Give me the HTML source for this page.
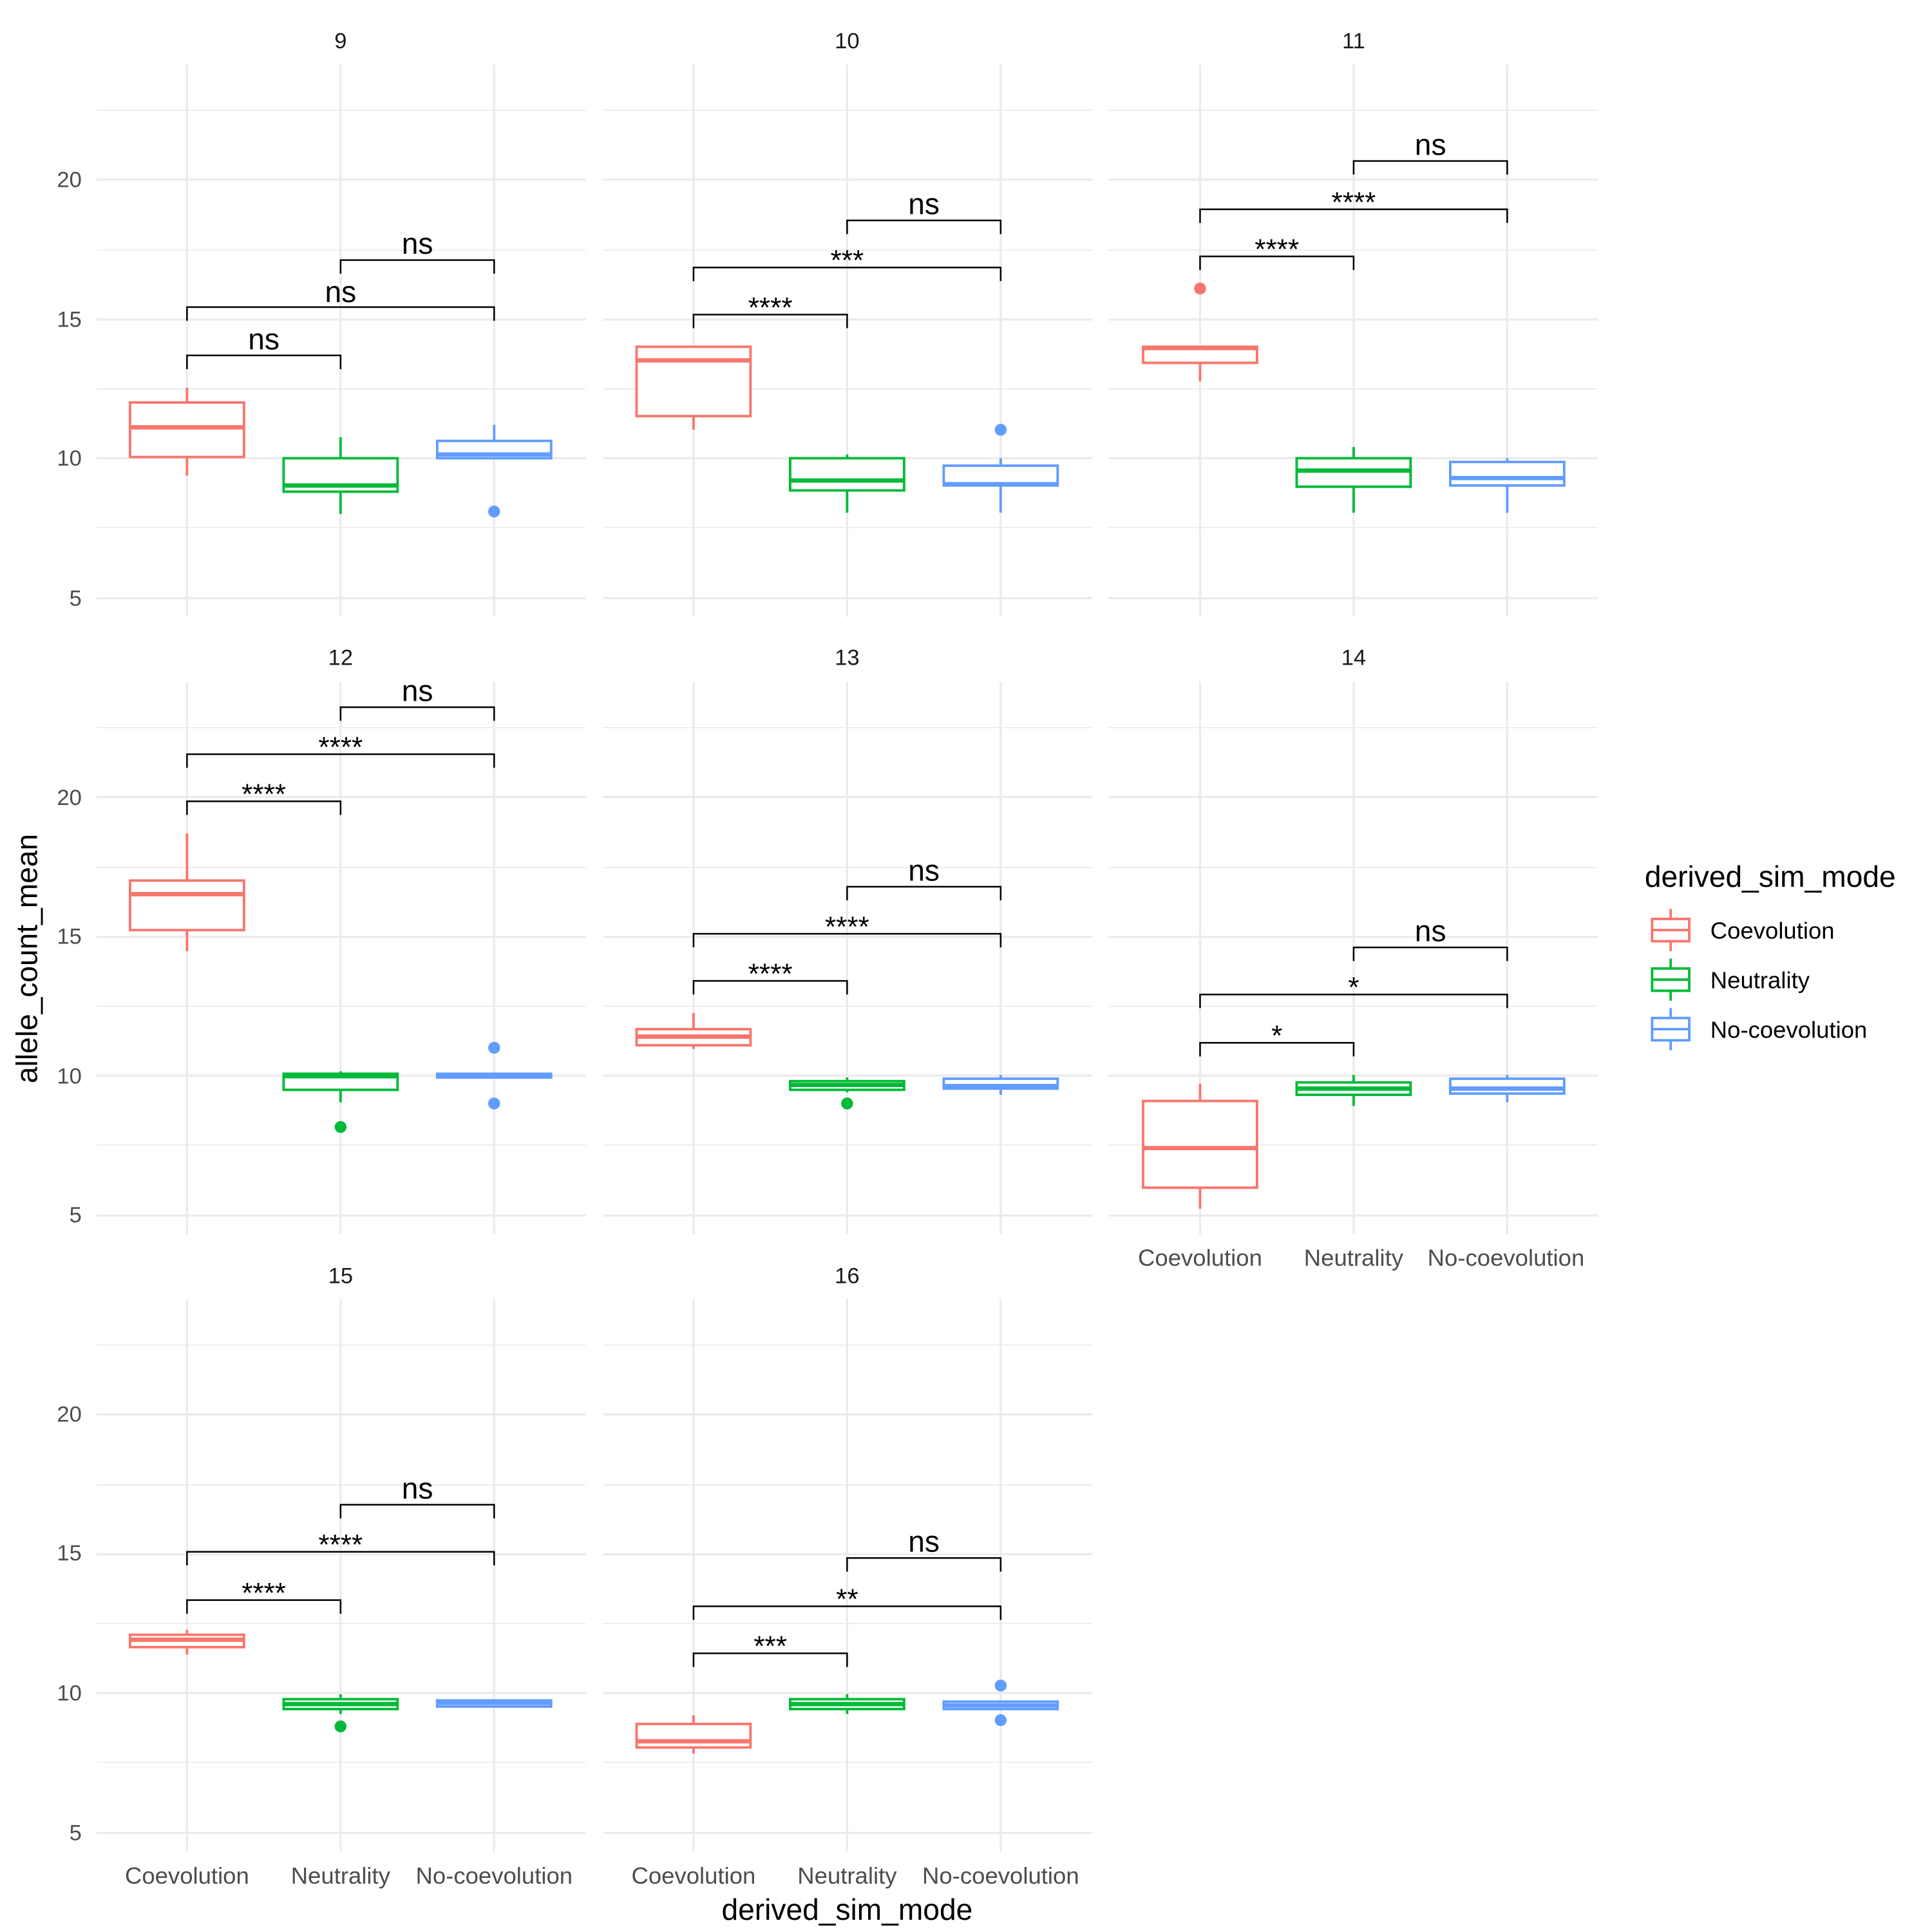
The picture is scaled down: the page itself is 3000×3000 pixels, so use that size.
<!DOCTYPE html>
<html><head><meta charset="utf-8">
<style>
html,body{margin:0;padding:0;background:#fff;}
svg{display:block;}
text{font-family:"Liberation Sans",Arial,sans-serif;}
</style></head><body>
<svg id="s" width="3000" height="3000" viewBox="0 0 1560 1560" xmlns="http://www.w3.org/2000/svg">
<rect width="1560" height="1560" fill="#fff"/>
<g id="grid"></g>
<g id="shapes"></g>
<g font-size="18" fill="#1A1A1A" text-anchor="middle">
<text x="275" y="39">9</text><text x="684" y="39">10</text><text x="1093" y="39">11</text>
<text x="275" y="537">12</text><text x="684" y="537">13</text><text x="1093" y="537">14</text>
<text x="275" y="1036">15</text><text x="684" y="1036">16</text>
</g>
<g font-size="18" fill="#4D4D4D" text-anchor="end">
<text x="66" y="151">20</text><text x="66" y="264">15</text><text x="66" y="376">10</text><text x="66" y="489">5</text>
<text x="66" y="650">20</text><text x="66" y="762">15</text><text x="66" y="875">10</text><text x="66" y="987">5</text>
<text x="66" y="1148">20</text><text x="66" y="1260">15</text><text x="66" y="1373">10</text><text x="66" y="1486">5</text>
</g>
<g font-size="19" fill="#4D4D4D" text-anchor="middle">
<text x="151" y="1521">Coevolution</text><text x="275" y="1521">Neutrality</text><text x="399" y="1521">No-coevolution</text>
<text x="560" y="1521">Coevolution</text><text x="684" y="1521">Neutrality</text><text x="808" y="1521">No-coevolution</text>
<text x="969" y="1022">Coevolution</text><text x="1093" y="1022">Neutrality</text><text x="1216" y="1022">No-coevolution</text>
</g>
<text x="684" y="1550" font-size="24" text-anchor="middle" fill="#000">derived_sim_mode</text>
<text transform="translate(30,774) rotate(-90)" font-size="24" text-anchor="middle" fill="#000">allele_count_mean</text>
<text x="1328" y="716" font-size="24" fill="#000">derived_sim_mode</text>
<g font-size="19" fill="#000">
<text x="1381" y="758">Coevolution</text><text x="1381" y="798">Neutrality</text><text x="1381" y="838">No-coevolution</text>
</g>
<g id="labels" text-anchor="middle" fill="#000">
<text x="213" y="282" font-size="24">ns</text><text x="275" y="244" font-size="24">ns</text><text x="337" y="205" font-size="24">ns</text>
<text x="622" y="256" font-size="23">****</text><text x="684" y="218" font-size="23">***</text><text x="746" y="173" font-size="24">ns</text>
<text x="1031" y="209" font-size="23">****</text><text x="1093" y="171" font-size="23">****</text><text x="1155" y="125" font-size="24">ns</text>
<text x="213" y="649" font-size="23">****</text><text x="275" y="611" font-size="23">****</text><text x="337" y="566" font-size="24">ns</text>
<text x="622" y="794" font-size="23">****</text><text x="684" y="756" font-size="23">****</text><text x="746" y="711" font-size="24">ns</text>
<text x="1031" y="844" font-size="23">*</text><text x="1093" y="805" font-size="23">*</text><text x="1155" y="760" font-size="24">ns</text>
<text x="213" y="1294" font-size="23">****</text><text x="275" y="1255" font-size="23">****</text><text x="337" y="1210" font-size="24">ns</text>
<text x="622" y="1337" font-size="23">***</text><text x="684" y="1299" font-size="23">**</text><text x="746" y="1253" font-size="24">ns</text>
</g>
</svg>
<script>
var NS="http://www.w3.org/2000/svg";
function el(p,n,a){var e=document.createElementNS(NS,n);for(var k in a)e.setAttribute(k,a[k]);document.getElementById(p).appendChild(e);return e;}
var C=["#F8766D","#00BA38","#619CFF"];
var cols=[[78,473,151],[487,882,560],[895,1290,969]];
var rows=[0,498.5,997];
var panels=[[0,0],[1,0],[2,0],[0,1],[1,1],[2,1],[0,2],[1,2]];
panels.forEach(function(p){
 var c=cols[p[0]],off=rows[p[1]];
 [89,202,314,426].forEach(function(y){el("grid","line",{x1:c[0],x2:c[1],y1:y+off,y2:y+off,stroke:"#EBEBEB","stroke-width":0.9});});
 [145,258,370,483].forEach(function(y){el("grid","line",{x1:c[0],x2:c[1],y1:y+off,y2:y+off,stroke:"#EBEBEB","stroke-width":1.7});});
 for(var i=0;i<3;i++){var x=c[2]+124*i;el("grid","line",{x1:x,x2:x,y1:52+off,y2:498+off,stroke:"#EBEBEB","stroke-width":1.7});}
});
var B=[
[0,[[313,325,345,369,384,[]],[353,370,392,397,415,[]],[343,356,367,370,370,[413]]]],
[1,[[280,280,291,336,347,[]],[367,370,388,396,414,[]],[370,376,391,392,414,[347]]]],
[2,[[280,280,281,293,308,[233]],[361,370,380,393,414,[]],[370,373,386,392,414,[]]]],
[3,[[673,711,722,751,768,[]],[865,867,869,880,890,[910]],[867,867,868,870,870,[846,891]]]],
[4,[[818,831,837,844,847,[]],[870,873,876,880,882,[891]],[868,871,877,879,884,[]]]],
[5,[[875,889,927,959,976,[]],[868,874,879,884,893,[]],[868,871,879,883,890,[]]]],
[6,[[1316,1320,1324,1330,1336,[]],[1368,1372,1376,1380,1384,[1394]],[1373,1373,1375,1378,1378,[]]]],
[7,[[1385,1392,1406,1411,1416,[]],[1368,1372,1376,1380,1384,[]],[1374,1374,1377,1380,1380,[1361,1389]]]]
];
B.forEach(function(b){
 var c=cols[panels[b[0]][0]];
 b[1].forEach(function(d,i){
  var x=c[2]+124*i,col=C[i];
  el("shapes","line",{x1:x,x2:x,y1:d[0],y2:d[1],stroke:col,"stroke-width":2});
  el("shapes","line",{x1:x,x2:x,y1:d[3],y2:d[4],stroke:col,"stroke-width":2});
  el("shapes","rect",{x:x-46,y:d[1],width:92,height:Math.max(d[3]-d[1],0.5),fill:"#fff",stroke:col,"stroke-width":2});
  el("shapes","line",{x1:x-46,x2:x+46,y1:d[2],y2:d[2],stroke:col,"stroke-width":3.5});
  d[5].forEach(function(o){el("shapes","circle",{cx:x,cy:o,r:4.8,fill:col});});
 });
});
var K=[[0,287,248,210],[1,254,216,178],[2,207,169,130],[3,647,609,571],[4,792,754,716],[5,842,803,765],[6,1292,1253,1215],[7,1335,1297,1258]];
K.forEach(function(k){
 var c=cols[panels[k[0]][0]],x0=c[2],x1=x0+124,x2=x0+248;
 [[x0,x1,k[1]],[x0,x2,k[2]],[x1,x2,k[3]]].forEach(function(q){
  el("shapes","path",{d:"M"+q[0]+" "+(q[2]+11)+"V"+q[2]+"H"+q[1]+"V"+(q[2]+11),fill:"none",stroke:"#000","stroke-width":1.3});
 });
});
[751,791,831].forEach(function(y,i){
 el("shapes","line",{x1:1349,x2:1349,y1:y-17,y2:y+17,stroke:C[i],"stroke-width":2});
 el("shapes","rect",{x:1334,y:y-9,width:30,height:18,fill:"#fff",stroke:C[i],"stroke-width":2});
 el("shapes","line",{x1:1334,x2:1364,y1:y,y2:y,stroke:C[i],"stroke-width":2});
});
</script>
</body></html>
